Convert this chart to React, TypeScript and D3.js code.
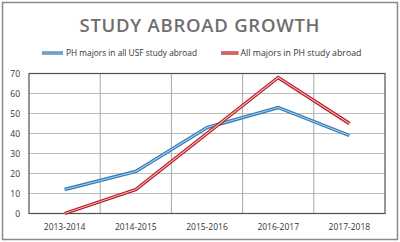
import React from "react";
import * as d3 from "d3";

const categories = ["2013-2014", "2014-2015", "2015-2016", "2016-2017", "2017-2018"];
const phInUsf = [12, 21, 43, 53, 39];
const allInPh = [0, 12, 40, 68, 45];
const yTicks = [0, 10, 20, 30, 40, 50, 60, 70];

const W = 400;
const H = 242;
const left = 29;
const right = 385;
const top = 73.5;
const bottom = 213.5;

export default function App() {
  const x = d3.scaleBand<string>().domain(categories).range([left, right]);
  const y = d3.scaleLinear().domain([0, 70]).range([bottom, top]);
  const line = d3
    .line<number>()
    .x((_, i) => (x(categories[i]) as number) + x.bandwidth() / 2)
    .y((d) => y(d));

  const series = [
    { name: "PH majors in all USF study abroad", values: phInUsf, dark: "#2f78b5", light: "#a9d0ee" },
    { name: "All majors in PH study abroad", values: allInPh, dark: "#b5121b", light: "#f3b6b8" },
  ];

  const font = "'Open Sans', 'DejaVu Sans', sans-serif";

  return (
    <svg
      width={W}
      height={H}
      style={{ position: "absolute", left: 0, top: 0, background: "#fff" }}
      fontFamily={font}
    >
      <rect x={2.5} y={2.5} width={395} height={237} fill="#fff" stroke="#8a8a8a" strokeWidth={1.5} />
      <text
        x={79.5}
        y={31.7}
        fontSize={18.5}
        fontWeight={600}
        fill="#6e6e6e"
        textLength={240}
        lengthAdjust="spacing"
      >
        STUDY ABROAD GROWTH
      </text>
      {/* legend */}
      <g>
        <line x1={42} x2={63} y1={53} y2={53} stroke={series[0].dark} strokeWidth={3.2} />
        <line x1={42} x2={63} y1={53} y2={53} stroke={series[0].light} strokeWidth={1} />
        <text x={66} y={56} fontSize={8.5} fill="#333" textLength={131} lengthAdjust="spacingAndGlyphs">
          {series[0].name}
        </text>
        <line x1={221} x2={238.5} y1={53} y2={53} stroke={series[1].dark} strokeWidth={3.2} />
        <line x1={221} x2={238.5} y1={53} y2={53} stroke={series[1].light} strokeWidth={1} />
        <text x={240.5} y={56} fontSize={8.5} fill="#333" textLength={121} lengthAdjust="spacingAndGlyphs">
          {series[1].name}
        </text>
      </g>
      {/* gridlines */}
      {yTicks.map((t) => (
        <line key={"h" + t} x1={left} x2={right} y1={y(t)} y2={y(t)} stroke="#bdbdbd" strokeWidth={1} />
      ))}
      {categories.slice(1).map((c) => (
        <line
          key={"v" + c}
          x1={x(c) as number}
          x2={x(c) as number}
          y1={top}
          y2={bottom}
          stroke="#a8a8a8"
          strokeWidth={1}
        />
      ))}
      <rect x={left} y={top} width={right - left} height={bottom - top} fill="none" stroke="#505050" strokeWidth={1.2} />
      {/* y tick labels */}
      {yTicks.map((t) => (
        <text key={"yl" + t} x={20} y={y(t) + 3} textAnchor="end" fontSize={8.5} fill="#333">
          {t}
        </text>
      ))}
      {/* x labels */}
      {categories.map((c) => (
        <text
          key={"xl" + c}
          x={(x(c) as number) + x.bandwidth() / 2}
          y={229.5}
          textAnchor="middle"
          fontSize={8.5}
          fill="#333"
        >
          {c}
        </text>
      ))}
      {/* lines */}
      {series.map((s) => (
        <g key={s.name}>
          <path d={line(s.values) as string} fill="none" stroke={s.dark} strokeWidth={3.4} strokeLinejoin="miter" />
          <path d={line(s.values) as string} fill="none" stroke={s.light} strokeWidth={1.1} strokeLinejoin="miter" />
        </g>
      ))}
    </svg>
  );
}
